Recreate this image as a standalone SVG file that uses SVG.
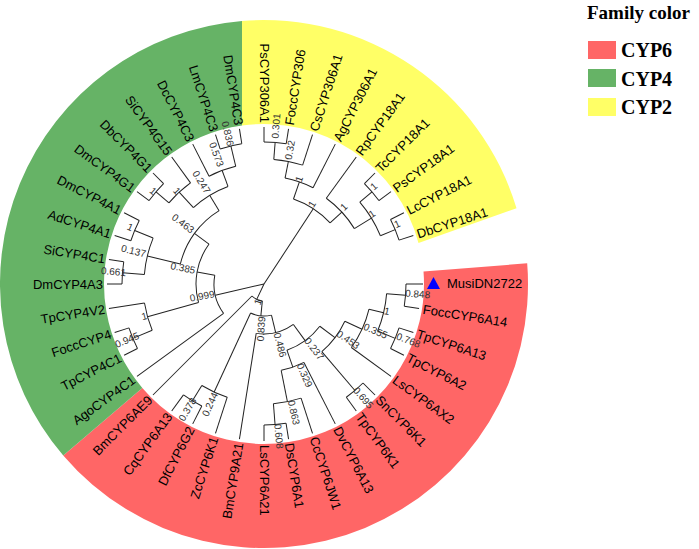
<svg xmlns="http://www.w3.org/2000/svg" width="699" height="549" viewBox="0 0 699 549">
<style>
.br{fill:none;stroke:#222;stroke-width:1}
.lf{font-family:'Liberation Sans',Arial,sans-serif;font-size:13px;fill:#000;dominant-baseline:central}
.fl{text-anchor:end}
.bs{font-family:'Liberation Sans',Arial,sans-serif;font-size:10px;fill:#333;text-anchor:middle;dominant-baseline:central}
.lg{font-family:'Liberation Serif','Times New Roman',serif;font-weight:bold;font-size:20px;fill:#000}
</style>
<rect width="699" height="549" fill="#fff"/>
<g id="bands" transform="translate(264,284)">
<path fill="#FF6666" d="M263.19 -20.71A264 264 0 0 1 -200.75 171.45L-121.67 103.91A160 160 0 0 0 159.51 -12.55Z"/>
<path fill="#66B366" d="M-200.75 171.45A264 264 0 0 1 -22 -263.08L-22 -158.48A160 160 0 0 0 -121.67 103.91Z"/>
<path fill="#FFFF66" d="M-22 -263.08A264 264 0 0 1 252.53 -75.71L154.5 -41A160 160 0 0 0 -22 -158.48Z"/>
</g>
<g id="connectors" class="br" transform="translate(264,284)">
<path d="M0 0H17" transform="rotate(115.3125)"/>
<path d="M0 0H50" transform="rotate(167.0625)"/>
<path d="M0 0H90" transform="rotate(303.1875)"/>
<path d="M17 0H32" transform="rotate(95.625)"/>
<path d="M17 0H157" transform="rotate(135)"/>
<path d="M32 0H50" transform="rotate(76.5)"/>
<path d="M32 0H119" transform="rotate(114.75)"/>
<path d="M50 0H70" transform="rotate(54)"/>
<path d="M50 0H157" transform="rotate(99)"/>
<path d="M70 0H89" transform="rotate(37.125)"/>
<path d="M70 0H88" transform="rotate(70.875)"/>
<path d="M89 0H108" transform="rotate(24.75)"/>
<path d="M89 0H140" transform="rotate(49.5)"/>
<path d="M108 0H123" transform="rotate(13.5)"/>
<path d="M108 0H157" transform="rotate(36)"/>
<path d="M123 0H142" transform="rotate(4.5)"/>
<path d="M123 0H142" transform="rotate(22.5)"/>
<path d="M142 0H159" transform="rotate(0)"/>
<path d="M142 0H157" transform="rotate(9)"/>
<path d="M142 0H157" transform="rotate(18)"/>
<path d="M142 0H157" transform="rotate(27)"/>
<path d="M140 0H157" transform="rotate(45)"/>
<path d="M140 0H157" transform="rotate(54)"/>
<path d="M88 0H157" transform="rotate(63)"/>
<path d="M88 0H120" transform="rotate(78.75)"/>
<path d="M120 0H157" transform="rotate(72)"/>
<path d="M120 0H141" transform="rotate(85.5)"/>
<path d="M141 0H157" transform="rotate(81)"/>
<path d="M141 0H157" transform="rotate(90)"/>
<path d="M119 0H157" transform="rotate(108)"/>
<path d="M119 0H137" transform="rotate(121.5)"/>
<path d="M137 0H157" transform="rotate(117)"/>
<path d="M137 0H157" transform="rotate(126)"/>
<path d="M50 0H157" transform="rotate(144)"/>
<path d="M50 0H68" transform="rotate(190.125)"/>
<path d="M68 0H121" transform="rotate(164.25)"/>
<path d="M68 0H86" transform="rotate(216)"/>
<path d="M121 0H142" transform="rotate(157.5)"/>
<path d="M121 0H157" transform="rotate(171)"/>
<path d="M142 0H157" transform="rotate(153)"/>
<path d="M142 0H157" transform="rotate(162)"/>
<path d="M86 0H120" transform="rotate(193.5)"/>
<path d="M86 0H104" transform="rotate(238.5)"/>
<path d="M120 0H142" transform="rotate(184.5)"/>
<path d="M120 0H140" transform="rotate(202.5)"/>
<path d="M142 0H157" transform="rotate(180)"/>
<path d="M142 0H157" transform="rotate(189)"/>
<path d="M140 0H157" transform="rotate(198)"/>
<path d="M140 0H157" transform="rotate(207)"/>
<path d="M104 0H125" transform="rotate(227.25)"/>
<path d="M104 0H121" transform="rotate(249.75)"/>
<path d="M125 0H142" transform="rotate(220.5)"/>
<path d="M125 0H157" transform="rotate(234)"/>
<path d="M142 0H157" transform="rotate(216)"/>
<path d="M142 0H157" transform="rotate(225)"/>
<path d="M121 0H157" transform="rotate(243)"/>
<path d="M121 0H142" transform="rotate(256.5)"/>
<path d="M142 0H157" transform="rotate(252)"/>
<path d="M142 0H157" transform="rotate(261)"/>
<path d="M90 0H108" transform="rotate(289.125)"/>
<path d="M90 0H106" transform="rotate(317.25)"/>
<path d="M108 0H125" transform="rotate(281.25)"/>
<path d="M108 0H157" transform="rotate(297)"/>
<path d="M125 0H142" transform="rotate(274.5)"/>
<path d="M125 0H157" transform="rotate(288)"/>
<path d="M142 0H157" transform="rotate(270)"/>
<path d="M142 0H157" transform="rotate(279)"/>
<path d="M106 0H157" transform="rotate(306)"/>
<path d="M106 0H126" transform="rotate(328.5)"/>
<path d="M126 0H142" transform="rotate(319.5)"/>
<path d="M126 0H142" transform="rotate(337.5)"/>
<path d="M142 0H157" transform="rotate(315)"/>
<path d="M142 0H157" transform="rotate(324)"/>
<path d="M142 0H157" transform="rotate(333)"/>
<path d="M142 0H157" transform="rotate(342)"/>
<circle r="142" stroke-dasharray="22.305 2000" transform="rotate(0)"/>
<circle r="142" stroke-dasharray="22.305 2000" transform="rotate(18)"/>
<circle r="123" stroke-dasharray="38.642 2000" transform="rotate(4.5)"/>
<circle r="108" stroke-dasharray="42.412 2000" transform="rotate(13.5)"/>
<circle r="140" stroke-dasharray="21.991 2000" transform="rotate(45)"/>
<circle r="89" stroke-dasharray="38.445 2000" transform="rotate(24.75)"/>
<circle r="141" stroke-dasharray="22.148 2000" transform="rotate(81)"/>
<circle r="120" stroke-dasharray="28.274 2000" transform="rotate(72)"/>
<circle r="88" stroke-dasharray="24.19 2000" transform="rotate(63)"/>
<circle r="70" stroke-dasharray="41.233 2000" transform="rotate(37.125)"/>
<circle r="50" stroke-dasharray="39.27 2000" transform="rotate(54)"/>
<circle r="137" stroke-dasharray="21.52 2000" transform="rotate(117)"/>
<circle r="119" stroke-dasharray="28.039 2000" transform="rotate(108)"/>
<circle r="32" stroke-dasharray="21.363 2000" transform="rotate(76.5)"/>
<circle r="17" stroke-dasharray="11.683 2000" transform="rotate(95.625)"/>
<circle r="142" stroke-dasharray="22.305 2000" transform="rotate(153)"/>
<circle r="121" stroke-dasharray="28.51 2000" transform="rotate(157.5)"/>
<circle r="142" stroke-dasharray="22.305 2000" transform="rotate(180)"/>
<circle r="140" stroke-dasharray="21.991 2000" transform="rotate(198)"/>
<circle r="120" stroke-dasharray="37.699 2000" transform="rotate(184.5)"/>
<circle r="142" stroke-dasharray="22.305 2000" transform="rotate(216)"/>
<circle r="125" stroke-dasharray="29.452 2000" transform="rotate(220.5)"/>
<circle r="142" stroke-dasharray="22.305 2000" transform="rotate(252)"/>
<circle r="121" stroke-dasharray="28.51 2000" transform="rotate(243)"/>
<circle r="104" stroke-dasharray="40.841 2000" transform="rotate(227.25)"/>
<circle r="86" stroke-dasharray="67.544 2000" transform="rotate(193.5)"/>
<circle r="68" stroke-dasharray="61.418 2000" transform="rotate(164.25)"/>
<circle r="50" stroke-dasharray="40.252 2000" transform="rotate(144)"/>
<circle r="142" stroke-dasharray="22.305 2000" transform="rotate(270)"/>
<circle r="125" stroke-dasharray="29.452 2000" transform="rotate(274.5)"/>
<circle r="108" stroke-dasharray="29.688 2000" transform="rotate(281.25)"/>
<circle r="142" stroke-dasharray="22.305 2000" transform="rotate(315)"/>
<circle r="142" stroke-dasharray="22.305 2000" transform="rotate(333)"/>
<circle r="126" stroke-dasharray="39.584 2000" transform="rotate(319.5)"/>
<circle r="106" stroke-dasharray="41.626 2000" transform="rotate(306)"/>
<circle r="90" stroke-dasharray="44.179 2000" transform="rotate(289.125)"/>
</g>
<g id="leaves" transform="translate(264,284)">
<g id="leaf-MusiDN2722"><path d="M163 5H176L169.5 -7Z" fill="#0000FF"/><text class="lf" x="183" y="-1">MusiDN2722</text></g>
<g id="leaf-FoccCYP6A14"><text class="lf" transform="rotate(9) translate(161,0)">FoccCYP6A14</text></g>
<g id="leaf-TpCYP6A13"><text class="lf" transform="rotate(18) translate(161,0)">TpCYP6A13</text></g>
<g id="leaf-TpCYP6A2"><text class="lf" transform="rotate(27) translate(161,0)">TpCYP6A2</text></g>
<g id="leaf-LsCYP6AX2"><text class="lf" transform="rotate(36) translate(161,0)">LsCYP6AX2</text></g>
<g id="leaf-SnCYP6K1"><text class="lf" transform="rotate(45) translate(161,0)">SnCYP6K1</text></g>
<g id="leaf-TpCYP6K1"><text class="lf" transform="rotate(54) translate(161,0)">TpCYP6K1</text></g>
<g id="leaf-DvCYP6A13"><text class="lf" transform="rotate(63) translate(161,0)">DvCYP6A13</text></g>
<g id="leaf-CcCYP6JW1"><text class="lf" transform="rotate(72) translate(161,0)">CcCYP6JW1</text></g>
<g id="leaf-DsCYP6A1"><text class="lf" transform="rotate(81) translate(161,0)">DsCYP6A1</text></g>
<g id="leaf-LsCYP6A21"><text class="lf" transform="rotate(90) translate(161,0)">LsCYP6A21</text></g>
<g id="leaf-BmCYP9A21"><text class="lf fl" transform="rotate(99) translate(161,0) rotate(180)">BmCYP9A21</text></g>
<g id="leaf-ZcCYP6K1"><text class="lf fl" transform="rotate(108) translate(161,0) rotate(180)">ZcCYP6K1</text></g>
<g id="leaf-DfCYP6G2"><text class="lf fl" transform="rotate(117) translate(161,0) rotate(180)">DfCYP6G2</text></g>
<g id="leaf-CqCYP6A13"><text class="lf fl" transform="rotate(126) translate(161,0) rotate(180)">CqCYP6A13</text></g>
<g id="leaf-BmCYP6AE9"><text class="lf fl" transform="rotate(135) translate(161,0) rotate(180)">BmCYP6AE9</text></g>
<g id="leaf-AgoCYP4C1"><text class="lf fl" transform="rotate(144) translate(161,0) rotate(180)">AgoCYP4C1</text></g>
<g id="leaf-TpCYP4C1"><text class="lf fl" transform="rotate(153) translate(161,0) rotate(180)">TpCYP4C1</text></g>
<g id="leaf-FoccCYP4"><text class="lf fl" transform="rotate(162) translate(161,0) rotate(180)">FoccCYP4</text></g>
<g id="leaf-TpCYP4V2"><text class="lf fl" transform="rotate(171) translate(161,0) rotate(180)">TpCYP4V2</text></g>
<g id="leaf-DmCYP4A3"><text class="lf fl" transform="rotate(180) translate(161,0) rotate(180)">DmCYP4A3</text></g>
<g id="leaf-SiCYP4C1"><text class="lf fl" transform="rotate(189) translate(161,0) rotate(180)">SiCYP4C1</text></g>
<g id="leaf-AdCYP4A1"><text class="lf fl" transform="rotate(198) translate(161,0) rotate(180)">AdCYP4A1</text></g>
<g id="leaf-DmCYP4A1"><text class="lf fl" transform="rotate(207) translate(161,0) rotate(180)">DmCYP4A1</text></g>
<g id="leaf-DmCYP4G1"><text class="lf fl" transform="rotate(216) translate(161,0) rotate(180)">DmCYP4G1</text></g>
<g id="leaf-DbCYP4G1"><text class="lf fl" transform="rotate(225) translate(161,0) rotate(180)">DbCYP4G1</text></g>
<g id="leaf-SiCYP4G15"><text class="lf fl" transform="rotate(234) translate(161,0) rotate(180)">SiCYP4G15</text></g>
<g id="leaf-DcCYP4C3"><text class="lf fl" transform="rotate(243) translate(161,0) rotate(180)">DcCYP4C3</text></g>
<g id="leaf-LmCYP4C3"><text class="lf fl" transform="rotate(252) translate(161,0) rotate(180)">LmCYP4C3</text></g>
<g id="leaf-DmCYP4C3"><text class="lf fl" transform="rotate(261) translate(161,0) rotate(180)">DmCYP4C3</text></g>
<g id="leaf-PsCYP306A1"><text class="lf fl" transform="rotate(270) translate(161,0) rotate(180)">PsCYP306A1</text></g>
<g id="leaf-FoccCYP306"><text class="lf" transform="rotate(279) translate(161,0)">FoccCYP306</text></g>
<g id="leaf-CsCYP306A1"><text class="lf" transform="rotate(288) translate(161,0)">CsCYP306A1</text></g>
<g id="leaf-AgCYP306A1"><text class="lf" transform="rotate(297) translate(161,0)">AgCYP306A1</text></g>
<g id="leaf-RpCYP18A1"><text class="lf" transform="rotate(306) translate(161,0)">RpCYP18A1</text></g>
<g id="leaf-TcCYP18A1"><text class="lf" transform="rotate(315) translate(161,0)">TcCYP18A1</text></g>
<g id="leaf-PsCYP18A1"><text class="lf" transform="rotate(324) translate(161,0)">PsCYP18A1</text></g>
<g id="leaf-LcCYP18A1"><text class="lf" transform="rotate(333) translate(161,0)">LcCYP18A1</text></g>
<g id="leaf-DbCYP18A1"><text class="lf" transform="rotate(342) translate(161,0)">DbCYP18A1</text></g>
</g>
<g id="support-values" class="bs" transform="translate(264,284)">
<text transform="rotate(3.7) translate(154,0)">0.848</text>
<text transform="rotate(21.3) translate(155,0)">0.768</text>
<text transform="rotate(12.4) translate(126,0)">1</text>
<text transform="rotate(22.8) translate(121,0)">0.355</text>
<text transform="rotate(48.9) translate(151,0)">0.695</text>
<text transform="rotate(33.5) translate(101,0)">0.453</text>
<text transform="rotate(84.4) translate(153,0)">0.608</text>
<text transform="rotate(76.9) translate(132,0)">0.863</text>
<text transform="rotate(66) translate(100,0)">0.329</text>
<text transform="rotate(52.2) translate(82,0)">0.237</text>
<text transform="rotate(75.2) translate(63,0)">0.486</text>
<text transform="rotate(121.4) translate(147,0) rotate(180)">0.378</text>
<text transform="rotate(114.2) translate(132,0) rotate(180)">0.244</text>
<text transform="rotate(93.8) translate(45,0) rotate(180)">0.839</text>
<text transform="rotate(109) translate(19,0) rotate(180)">1</text>
<text transform="rotate(157.8) translate(148,0) rotate(180)">0.945</text>
<text transform="rotate(165) translate(124,0) rotate(180)">1</text>
<text transform="rotate(169) translate(63,0) rotate(180)">0.999</text>
<text transform="rotate(191.2) translate(82.6,0) rotate(180)">0.385</text>
<text transform="rotate(194.2) translate(134.6,0) rotate(180)">0.137</text>
<text transform="rotate(184.7) translate(151,0) rotate(180)">0.661</text>
<text transform="rotate(203) translate(145.5,0) rotate(180)">1</text>
<text transform="rotate(216.8) translate(101,0) rotate(180)">0.463</text>
<text transform="rotate(220) translate(144.8,0) rotate(180)">1</text>
<text transform="rotate(226.9) translate(127.4,0) rotate(180)">1</text>
<text transform="rotate(238.5) translate(119.6,0) rotate(180)">0.247</text>
<text transform="rotate(249.9) translate(138,0) rotate(180)">0.573</text>
<text transform="rotate(256.5) translate(154.7,0) rotate(180)">0.836</text>
<text transform="rotate(274.3) translate(158.5,0)">0.301</text>
<text transform="rotate(280.9) translate(136.5,0)">0.32</text>
<text transform="rotate(288.4) translate(110.7,0)">1</text>
<text transform="rotate(301) translate(93.3,0)">1</text>
<text transform="rotate(316) translate(111,0)">1</text>
<text transform="rotate(327) translate(128.7,0)">1</text>
<text transform="rotate(318.3) translate(147,0)">1</text>
<text transform="rotate(335.7) translate(146,0)">1</text>
</g>
<g id="legend">
<text class="lg" x="587" y="19" style="font-size:19px">Family color</text>
<g id="legend-CYP6"><rect x="588" y="41" width="28" height="18" fill="#FF6666"/><text class="lg" x="621" y="57">CYP6</text></g>
<g id="legend-CYP4"><rect x="588" y="69" width="28" height="18" fill="#66B366"/><text class="lg" x="621" y="86">CYP4</text></g>
<g id="legend-CYP2"><rect x="588" y="98" width="28" height="18" fill="#FFFF66"/><text class="lg" x="621" y="114">CYP2</text></g>
</g>
</svg>
